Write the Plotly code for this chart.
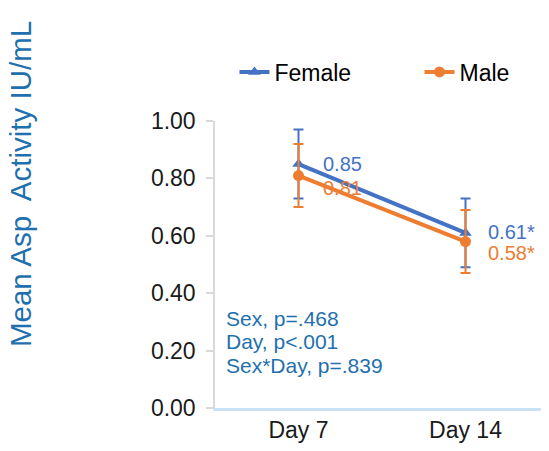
import plotly.graph_objects as go

days = ["Day 7", "Day 14"]
female = [0.85, 0.61]
male = [0.81, 0.58]
female_err = [0.12, 0.12]
male_err = [0.11, 0.11]
female_labels = ["0.85", "0.61*"]
male_labels = ["0.81", "0.58*"]
stats_lines = ["Sex, p=.468", "Day, p<.001", "Sex*Day, p=.839"]
yticks = [0.0, 0.2, 0.4, 0.6, 0.8, 1.0]

BLUE = "#4472C4"
ORANGE = "#ED7D31"
TEXTBLUE = "#1F70AE"
FONT = "Liberation Sans, Arial, sans-serif"

fig = go.Figure()
fig.add_trace(go.Scatter(
    x=days, y=female, name="Female", mode="lines+markers",
    line=dict(color=BLUE, width=4),
    marker=dict(symbol="triangle-up", size=11, color=BLUE),
    error_y=dict(type="data", array=female_err, color=BLUE, thickness=2, width=5),
    legend="legend",
))
fig.add_trace(go.Scatter(
    x=days, y=male, name="Male", mode="lines+markers",
    line=dict(color=ORANGE, width=4),
    marker=dict(symbol="circle", size=11, color=ORANGE),
    error_y=dict(type="data", array=male_err, color=ORANGE, thickness=2, width=5),
    legend="legend2",
))

for d, v, t, xs, ys in zip(days, female, female_labels, [22, 20], [0, 1]):
    fig.add_annotation(x=d, y=v, text=t, showarrow=False, xanchor="left",
                       xshift=xs, yshift=ys, font=dict(size=20, color=BLUE, family=FONT))
for d, v, t, xs, ys in zip(days, male, male_labels, [22, 20], [-12, -11]):
    fig.add_annotation(x=d, y=v, text=t, showarrow=False, xanchor="left",
                       xshift=xs, yshift=ys, font=dict(size=20, color=ORANGE, family=FONT))

stat_y = [0.312, 0.230, 0.148]
for line, yy in zip(stats_lines, stat_y):
    fig.add_annotation(x=0.026, xref="paper", y=yy, yref="paper",
                       text=line, showarrow=False, xanchor="left", yanchor="middle",
                       font=dict(size=21, color=TEXTBLUE, family=FONT))

fig.add_annotation(x=-0.584, xref="paper", y=0.780, yref="paper", text="Mean Asp  Activity IU/mL",
                   textangle=-90, showarrow=False, xanchor="center", yanchor="middle",
                   font=dict(size=29.5, color=TEXTBLUE, family=FONT))

fig.update_layout(
    width=541, height=443,
    margin=dict(l=207, r=0, t=113, b=43, pad=0),
    plot_bgcolor="white", paper_bgcolor="white",
    font=dict(family=FONT, size=23, color="#1a1a1a"),
    showlegend=True,
    legend=dict(orientation="h", x=0.4186, xanchor="left", xref="container",
                y=0.8555, yanchor="middle", yref="container",
                font=dict(size=23, color="#000000", family=FONT), bgcolor="rgba(0,0,0,0)"),
    legend2=dict(orientation="h", x=0.7606, xanchor="left", xref="container",
                 y=0.8555, yanchor="middle", yref="container",
                 font=dict(size=23, color="#000000", family=FONT), bgcolor="rgba(0,0,0,0)"),
    xaxis=dict(showline=True, linecolor="#C9E3F6", linewidth=2.5, showgrid=False,
               ticks="", tickfont=dict(size=23, color="#1a1a1a"), range=[-0.5, 1.5]),
    yaxis=dict(range=[0, 1.0], tickvals=yticks, tickformat=".2f",
               showline=True, linecolor="#D9D9D9", linewidth=1.5, showgrid=False,
               ticks="outside", ticklen=7, tickcolor="#D9D9D9", tickwidth=1.5, zeroline=False,
               ticklabelstandoff=6,
               tickfont=dict(size=23, color="#1a1a1a")),
    yaxis2=dict(range=[0, 1.0], tickvals=yticks, overlaying="y", side="left",
                showline=False, showgrid=False, zeroline=False,
                ticks="inside", ticklen=6, tickcolor="#D9D9D9", tickwidth=1.5,
                showticklabels=False),
)

fig.write_html("out.html")
